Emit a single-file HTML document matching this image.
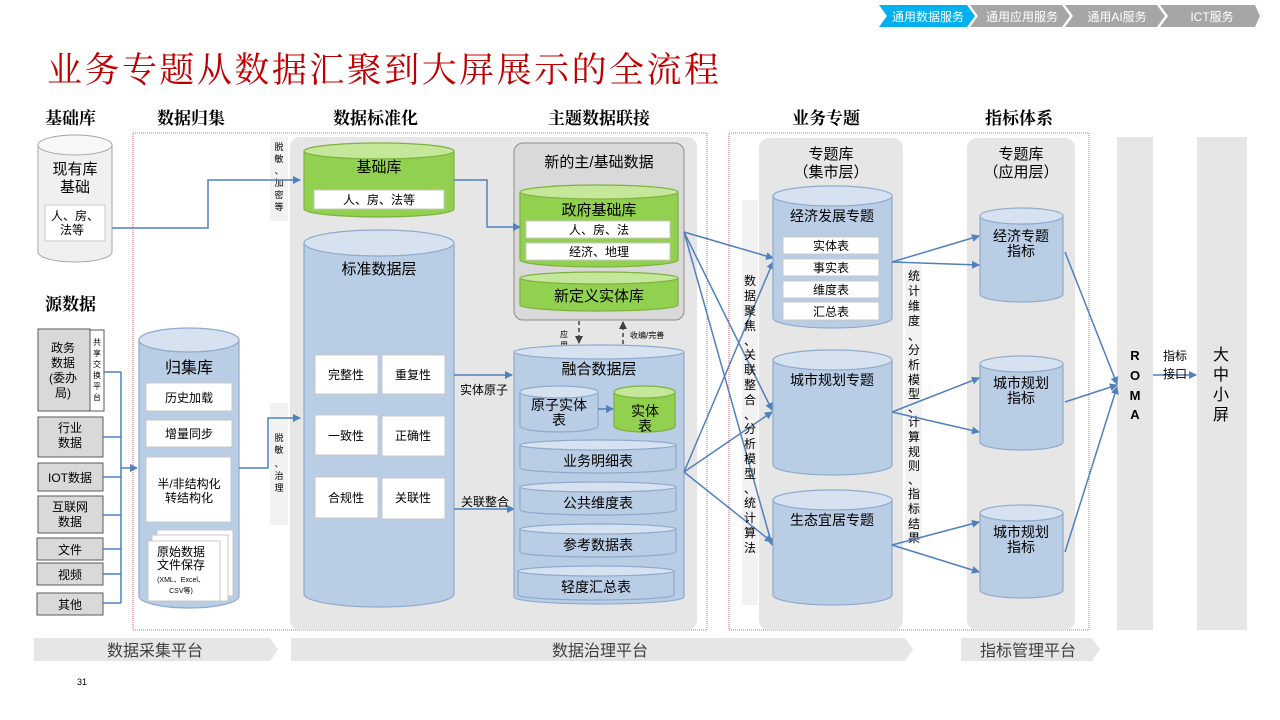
<!DOCTYPE html>
<html><head><meta charset="utf-8">
<style>
html,body{margin:0;padding:0;background:#fff;}
svg{display:block;}
text{font-family:"Liberation Sans","Noto Sans CJK SC",sans-serif;}
.h{font-family:"Liberation Serif","Noto Serif CJK SC",serif;font-weight:bold;font-size:17px;fill:#000;}
.bc{fill:#b9cde5;stroke:#8eaacc;stroke-width:1.2;}
.bt{fill:#d6e2f0;stroke:#8eaacc;stroke-width:1.2;}
.gc{fill:#92d050;stroke:#7fb040;stroke-width:1.2;}
.gt{fill:#c4e79a;stroke:#7fb040;stroke-width:1.2;}
.wb{fill:#fff;stroke:#c8c8c8;stroke-width:1;}
.ln{stroke:#4f81bd;stroke-width:1.5;fill:none;}
.t12{font-size:12px;fill:#000;}
.t14{font-size:14px;fill:#000;}
.t15{font-size:15px;fill:#000;}
</style></head>
<body>
<svg width="1280" height="720" viewBox="0 0 1280 720" xmlns="http://www.w3.org/2000/svg">
<defs>
<marker id="a" markerWidth="8" markerHeight="8" refX="7" refY="4" orient="auto" markerUnits="userSpaceOnUse"><path d="M0,0 L8,4 L0,8 Z" fill="#4f81bd"/></marker>
<marker id="d" markerWidth="8" markerHeight="8" refX="7" refY="4" orient="auto" markerUnits="userSpaceOnUse"><path d="M0,0 L8,4 L0,8 Z" fill="#404040"/></marker>
</defs>

<!-- top nav -->
<polygon points="879,5 967,5 975,16 967,27 879,27 887,16" fill="#00b0f0"/>
<polygon points="970,5 1062,5 1070,16 1062,27 970,27 978,16" fill="#a6a6a6"/>
<polygon points="1065,5 1157,5 1165,16 1157,27 1065,27 1073,16" fill="#a6a6a6"/>
<polygon points="1160,5 1255,5 1260,16 1255,27 1160,27 1168,16" fill="#a6a6a6"/>
<text x="928" y="21" font-size="12" fill="#fff" text-anchor="middle">通用数据服务</text>
<text x="1022" y="21" font-size="12" fill="#fff" text-anchor="middle">通用应用服务</text>
<text x="1117" y="21" font-size="12" fill="#fff" text-anchor="middle">通用AI服务</text>
<text x="1212" y="21" font-size="12" fill="#fff" text-anchor="middle">ICT服务</text>

<!-- title -->
<text x="47" y="82" font-size="35" fill="#c00000" style="font-family:'Liberation Serif','Noto Serif CJK SC',serif" textLength="672">业务专题从数据汇聚到大屏展示的全流程</text>

<!-- headers -->
<text class="h" x="45" y="124">基础库</text>
<text class="h" x="157" y="124">数据归集</text>
<text class="h" x="333" y="124">数据标准化</text>
<text class="h" x="548" y="124">主题数据联接</text>
<text class="h" x="792" y="124">业务专题</text>
<text class="h" x="985" y="124">指标体系</text>
<text class="h" x="45" y="310">源数据</text>

<!-- dotted red frames -->
<rect x="133" y="133" width="574" height="497" fill="none" stroke="#e06070" stroke-width="1" stroke-dasharray="1,1"/>
<rect x="729" y="133" width="360" height="497" fill="none" stroke="#e06070" stroke-width="1" stroke-dasharray="1,1"/>

<!-- gray panels -->
<rect x="290" y="137" width="407" height="493" rx="10" fill="#e6e6e6"/>
<rect x="759" y="138" width="144" height="492" rx="10" fill="#e6e6e6"/>
<rect x="967" y="138" width="108" height="492" rx="10" fill="#e6e6e6"/>
<rect x="1117" y="137" width="36" height="493" fill="#e6e6e6"/>
<rect x="1197" y="137" width="50" height="493" fill="#e6e6e6"/>
<rect x="270" y="137" width="18" height="84" fill="#f2f2f2"/>
<rect x="270" y="403" width="18" height="122" fill="#f2f2f2"/>
<rect x="742" y="200" width="16" height="405" fill="#f2f2f2"/>
<rect x="905" y="265" width="17" height="275" fill="#f2f2f2"/>

<!-- 现有库基础 -->
<path d="M38,145 L38,252 A37,10 0 0 0 112,252 L112,145 Z" fill="#f0f0f0" stroke="#a6a6a6"/>
<ellipse cx="75" cy="145" rx="37" ry="10" fill="#f7f7f7" stroke="#a6a6a6"/>
<text class="t15" x="75" y="174" text-anchor="middle">现有库</text>
<text class="t15" x="75" y="192" text-anchor="middle">基础</text>
<rect x="45" y="205" width="60" height="36" class="wb"/>
<text class="t12" x="75" y="220" text-anchor="middle">人、房、</text>
<text class="t12" x="72" y="234" text-anchor="middle">法等</text>

<!-- source boxes -->
<rect x="38" y="329" width="52" height="82" fill="#d9d9d9" stroke="#595959"/>
<rect x="90" y="330" width="14" height="81" fill="#fff" stroke="#595959"/>
<text class="t12" x="63" y="352" text-anchor="middle">政务</text>
<text class="t12" x="63" y="367" text-anchor="middle">数据</text>
<text class="t12" x="63" y="382" text-anchor="middle">(委办</text>
<text class="t12" x="63" y="397" text-anchor="middle">局)</text>
<text font-size="8" x="97" y="345" text-anchor="middle">共</text>
<text font-size="8" x="97" y="356" text-anchor="middle">享</text>
<text font-size="8" x="97" y="367" text-anchor="middle">交</text>
<text font-size="8" x="97" y="378" text-anchor="middle">换</text>
<text font-size="8" x="97" y="389" text-anchor="middle">平</text>
<text font-size="8" x="97" y="400" text-anchor="middle">台</text>
<rect x="38" y="417" width="65" height="40" fill="#d9d9d9" stroke="#595959"/>
<text class="t12" x="70" y="432" text-anchor="middle">行业</text>
<text class="t12" x="70" y="447" text-anchor="middle">数据</text>
<rect x="38" y="463" width="65" height="28" fill="#d9d9d9" stroke="#595959"/>
<text class="t12" x="70" y="482" text-anchor="middle">IOT数据</text>
<rect x="38" y="496" width="65" height="37" fill="#d9d9d9" stroke="#595959"/>
<text class="t12" x="70" y="511" text-anchor="middle">互联网</text>
<text class="t12" x="70" y="526" text-anchor="middle">数据</text>
<rect x="37" y="538" width="66" height="22" fill="#d9d9d9" stroke="#595959"/>
<text class="t12" x="70" y="554" text-anchor="middle">文件</text>
<rect x="37" y="563" width="66" height="22" fill="#d9d9d9" stroke="#595959"/>
<text class="t12" x="70" y="579" text-anchor="middle">视频</text>
<rect x="37" y="593" width="66" height="22" fill="#d9d9d9" stroke="#595959"/>
<text class="t12" x="70" y="609" text-anchor="middle">其他</text>
<path class="ln" d="M104,372 H121 M103,437 H121 M103,477 H121 M103,515 H121 M103,549 H121 M103,574 H121 M103,603 H121 M121,372 V603"/>
<line class="ln" x1="121" y1="468" x2="137" y2="468" marker-end="url(#a)"/>

<!-- 归集库 -->
<path d="M139,340 L139,596 A50,12 0 0 0 239,596 L239,340 Z" class="bc"/>
<ellipse cx="189" cy="340" rx="50" ry="12" class="bt"/>
<text x="189" y="373" font-size="16" text-anchor="middle">归集库</text>
<rect x="146" y="383" width="86" height="28" class="wb"/>
<text class="t12" x="189" y="402" text-anchor="middle">历史加载</text>
<rect x="146" y="420" width="86" height="27" class="wb"/>
<text class="t12" x="189" y="438" text-anchor="middle">增量同步</text>
<rect x="146" y="457" width="85" height="65" class="wb"/>
<text class="t12" x="189" y="488" text-anchor="middle">半/非结构化</text>
<text class="t12" x="189" y="502" text-anchor="middle">转结构化</text>
<rect x="157" y="530" width="76" height="66" fill="#fff" stroke="#c8c8c8"/>
<rect x="152" y="535" width="76" height="66" fill="#fff" stroke="#c8c8c8"/>
<rect x="148" y="541" width="72" height="60" fill="#fff" stroke="#c8c8c8"/>
<text class="t12" x="181" y="556" text-anchor="middle">原始数据</text>
<text class="t12" x="181" y="569" text-anchor="middle">文件保存</text>
<text font-size="7" x="181" y="582" text-anchor="middle">(XML、Excel、</text>
<text font-size="7" x="181" y="593" text-anchor="middle">CSV等)</text>

<!-- vertical labels left -->
<text font-size="9" x="279" y="150" text-anchor="middle">脱</text>
<text font-size="9" x="279" y="162" text-anchor="middle">敏</text>
<text font-size="9" x="279" y="174" text-anchor="middle">、</text>
<text font-size="9" x="279" y="186" text-anchor="middle">加</text>
<text font-size="9" x="279" y="198" text-anchor="middle">密</text>
<text font-size="9" x="279" y="210" text-anchor="middle">等</text>
<text font-size="9" x="279" y="441" text-anchor="middle">脱</text>
<text font-size="9" x="279" y="453" text-anchor="middle">敏</text>
<text font-size="9" x="279" y="467" text-anchor="middle">、</text>
<text font-size="9" x="279" y="479" text-anchor="middle">治</text>
<text font-size="9" x="279" y="491" text-anchor="middle">理</text>
<path class="ln" d="M112,228 H208 V180 H300" marker-end="url(#a)"/>
<path class="ln" d="M239,468 H268 V418 H300" marker-end="url(#a)"/>

<!-- 基础库 green -->
<path d="M304,151 L304,209 A75,8 0 0 0 454,209 L454,151 Z" class="gc"/>
<ellipse cx="379" cy="151" rx="75" ry="8" class="gt"/>
<text x="379" y="172" font-size="15" text-anchor="middle">基础库</text>
<rect x="314" y="190" width="130" height="19" class="wb"/>
<text class="t12" x="379" y="204" text-anchor="middle">人、房、法等</text>

<!-- 标准数据层 -->
<path d="M304,243 L304,594 A75,13 0 0 0 454,594 L454,243 Z" class="bc"/>
<ellipse cx="379" cy="243" rx="75" ry="13" class="bt"/>
<text x="379" y="274" font-size="15" text-anchor="middle">标准数据层</text>
<rect x="315" y="355" width="63" height="39" class="wb"/><text class="t12" x="346" y="379" text-anchor="middle">完整性</text>
<rect x="382" y="355" width="63" height="39" class="wb"/><text class="t12" x="413" y="379" text-anchor="middle">重复性</text>
<rect x="315" y="415" width="63" height="40" class="wb"/><text class="t12" x="346" y="440" text-anchor="middle">一致性</text>
<rect x="382" y="416" width="63" height="40" class="wb"/><text class="t12" x="413" y="440" text-anchor="middle">正确性</text>
<rect x="315" y="477" width="63" height="41" class="wb"/><text class="t12" x="346" y="502" text-anchor="middle">合规性</text>
<rect x="382" y="478" width="63" height="41" class="wb"/><text class="t12" x="413" y="502" text-anchor="middle">关联性</text>
<line class="ln" x1="454" y1="375" x2="512" y2="375" marker-end="url(#a)"/>
<text class="t12" x="460" y="394">实体原子</text>
<text class="t12" x="461" y="506">关联整合</text>
<line class="ln" x1="454" y1="509" x2="514" y2="509" marker-end="url(#a)"/>

<!-- 新的主/基础数据 -->
<rect x="514" y="143" width="170" height="177" rx="9" fill="#d9d9d9" stroke="#8c8c8c"/>
<text x="599" y="167" font-size="15" text-anchor="middle">新的主/基础数据</text>
<path d="M520,192 L520,260 A79,7 0 0 0 678,260 L678,192 Z" class="gc"/>
<ellipse cx="599" cy="192" rx="79" ry="7" class="gt"/>
<text x="599" y="215" font-size="15" text-anchor="middle">政府基础库</text>
<rect x="526" y="221" width="144" height="17" class="wb"/><text class="t12" x="599" y="234" text-anchor="middle">人、房、法</text>
<rect x="526" y="243" width="144" height="17" class="wb"/><text class="t12" x="599" y="256" text-anchor="middle">经济、地理</text>
<path d="M520,278 L520,305 A79,6 0 0 0 678,305 L678,278 Z" class="gc"/>
<ellipse cx="599" cy="278" rx="79" ry="6" class="gt"/>
<text x="599" y="301" font-size="15" text-anchor="middle">新定义实体库</text>
<path class="ln" d="M454,180 H487 V227 H520" marker-end="url(#a)"/>

<!-- dashed -->
<line x1="579" y1="321" x2="579" y2="343" stroke="#404040" stroke-width="1.5" stroke-dasharray="4,3" marker-end="url(#d)"/>
<line x1="623" y1="344" x2="623" y2="322" stroke="#404040" stroke-width="1.5" stroke-dasharray="4,3" marker-end="url(#d)"/>
<text font-size="8" x="560" y="337">应</text>
<text font-size="8" x="560" y="348">用</text>
<text font-size="8" x="630" y="338">收编/完善</text>

<!-- 融合数据层 -->
<path d="M514,352 L514,597 A85,7 0 0 0 684,597 L684,352 Z" class="bc"/>
<ellipse cx="599" cy="352" rx="85" ry="7" class="bt"/>
<text x="599" y="374" font-size="15" text-anchor="middle">融合数据层</text>
<path d="M520,392 L520,426 A39,6 0 0 0 598,426 L598,392 Z" class="bc"/>
<ellipse cx="559" cy="392" rx="39" ry="6" class="bt"/>
<text x="559" y="410" font-size="14" text-anchor="middle">原子实体</text>
<text x="559" y="425" font-size="14" text-anchor="middle">表</text>
<path d="M614,392 L614,426 A30.5,6 0 0 0 675,426 L675,392 Z" class="gc"/>
<ellipse cx="644.5" cy="392" rx="30.5" ry="6" class="gt"/>
<text x="645" y="416" font-size="14" text-anchor="middle">实体</text>
<text x="645" y="431" font-size="14" text-anchor="middle">表</text>
<line class="ln" x1="598" y1="409" x2="613" y2="409" marker-end="url(#a)"/>
<path d="M520,445 L520,468 A78,5 0 0 0 676,468 L676,445 Z" class="bc"/><ellipse cx="598" cy="445" rx="78" ry="5" class="bt"/>
<text class="t14" x="598" y="466" text-anchor="middle">业务明细表</text>
<path d="M520,487 L520,510 A78,5 0 0 0 676,510 L676,487 Z" class="bc"/><ellipse cx="598" cy="487" rx="78" ry="5" class="bt"/>
<text class="t14" x="598" y="508" text-anchor="middle">公共维度表</text>
<path d="M520,529 L520,552 A78,5 0 0 0 676,552 L676,529 Z" class="bc"/><ellipse cx="598" cy="529" rx="78" ry="5" class="bt"/>
<text class="t14" x="598" y="550" text-anchor="middle">参考数据表</text>
<path d="M518,571 L518,595 A78,5 0 0 0 674,595 L674,571 Z" class="bc"/><ellipse cx="596" cy="571" rx="78" ry="5" class="bt"/>
<text class="t14" x="596" y="592" text-anchor="middle">轻度汇总表</text>

<!-- fan lines -->
<g class="ln" marker-end="url(#a)">
<line x1="684" y1="232" x2="773" y2="258"/>
<line x1="684" y1="232" x2="772" y2="410"/>
<line x1="684" y1="232" x2="772" y2="545"/>
<line x1="684" y1="472" x2="773" y2="262"/>
<line x1="684" y1="472" x2="772" y2="412"/>
<line x1="684" y1="472" x2="772" y2="542"/>
</g>

<!-- 专题库 集市层 -->
<text x="831" y="159" font-size="15" text-anchor="middle">专题库</text>
<text x="831" y="177" font-size="15" text-anchor="middle">（集市层）</text>
<path d="M773,196 L773,318 A59.5,10 0 0 0 892,318 L892,196 Z" class="bc"/><ellipse cx="832.5" cy="196" rx="59.5" ry="10" class="bt"/>
<text class="t14" x="832" y="221" text-anchor="middle">经济发展专题</text>
<rect x="783" y="237" width="96" height="17" class="wb"/><text class="t12" x="831" y="250" text-anchor="middle">实体表</text>
<rect x="783" y="259" width="96" height="17" class="wb"/><text class="t12" x="831" y="272" text-anchor="middle">事实表</text>
<rect x="783" y="281" width="96" height="17" class="wb"/><text class="t12" x="831" y="294" text-anchor="middle">维度表</text>
<rect x="783" y="302" width="96" height="18" class="wb"/><text class="t12" x="831" y="316" text-anchor="middle">汇总表</text>
<path d="M773,360 L773,465 A59.5,10 0 0 0 892,465 L892,360 Z" class="bc"/><ellipse cx="832.5" cy="360" rx="59.5" ry="10" class="bt"/>
<text class="t14" x="832" y="385" text-anchor="middle">城市规划专题</text>
<path d="M773,500 L773,595 A59.5,10 0 0 0 892,595 L892,500 Z" class="bc"/><ellipse cx="832.5" cy="500" rx="59.5" ry="10" class="bt"/>
<text class="t14" x="832" y="525" text-anchor="middle">生态宜居专题</text>

<!-- vertical text 1 -->
<text class="t12" text-anchor="middle">
<tspan x="750" y="285">数</tspan><tspan x="750" y="300">据</tspan><tspan x="750" y="315">聚</tspan><tspan x="750" y="330">焦</tspan><tspan x="750" y="345">、</tspan><tspan x="750" y="359">关</tspan><tspan x="750" y="374">联</tspan><tspan x="750" y="389">整</tspan><tspan x="750" y="404">合</tspan><tspan x="750" y="419">、</tspan><tspan x="750" y="433">分</tspan><tspan x="750" y="448">析</tspan><tspan x="750" y="463">模</tspan><tspan x="750" y="478">型</tspan><tspan x="750" y="493">、</tspan><tspan x="750" y="507">统</tspan><tspan x="750" y="522">计</tspan><tspan x="750" y="537">算</tspan><tspan x="750" y="552">法</tspan>
</text>
<!-- vertical text 2 -->
<text class="t12" text-anchor="middle">
<tspan x="914" y="280">统</tspan><tspan x="914" y="295">计</tspan><tspan x="914" y="310">维</tspan><tspan x="914" y="325">度</tspan><tspan x="914" y="340">、</tspan><tspan x="914" y="354">分</tspan><tspan x="914" y="369">析</tspan><tspan x="914" y="384">模</tspan><tspan x="914" y="398">型</tspan><tspan x="914" y="412">、</tspan><tspan x="914" y="426">计</tspan><tspan x="914" y="441">算</tspan><tspan x="914" y="456">规</tspan><tspan x="914" y="470">则</tspan><tspan x="914" y="484">、</tspan><tspan x="914" y="498">指</tspan><tspan x="914" y="513">标</tspan><tspan x="914" y="528">结</tspan><tspan x="914" y="542">果</tspan>
</text>

<!-- 指标 panel -->
<text x="1021" y="159" font-size="15" text-anchor="middle">专题库</text>
<text x="1021" y="177" font-size="15" text-anchor="middle">（应用层）</text>
<path d="M980,216 L980,294 A41.5,8 0 0 0 1063,294 L1063,216 Z" class="bc"/><ellipse cx="1021.5" cy="216" rx="41.5" ry="8" class="bt"/>
<text class="t14" x="1021" y="241" text-anchor="middle">经济专题</text><text class="t14" x="1021" y="256" text-anchor="middle">指标</text>
<path d="M980,364 L980,442 A41.5,8 0 0 0 1063,442 L1063,364 Z" class="bc"/><ellipse cx="1021.5" cy="364" rx="41.5" ry="8" class="bt"/>
<text class="t14" x="1021" y="388" text-anchor="middle">城市规划</text><text class="t14" x="1021" y="403" text-anchor="middle">指标</text>
<path d="M980,513 L980,590 A41.5,8 0 0 0 1063,590 L1063,513 Z" class="bc"/><ellipse cx="1021.5" cy="513" rx="41.5" ry="8" class="bt"/>
<text class="t14" x="1021" y="537" text-anchor="middle">城市规划</text><text class="t14" x="1021" y="552" text-anchor="middle">指标</text>

<g class="ln" marker-end="url(#a)">
<line x1="892" y1="262" x2="979" y2="236"/>
<line x1="892" y1="262" x2="979" y2="265"/>
<line x1="892" y1="412" x2="979" y2="378"/>
<line x1="892" y1="412" x2="979" y2="432"/>
<line x1="892" y1="545" x2="979" y2="522"/>
<line x1="892" y1="545" x2="979" y2="572"/>
<line x1="1065" y1="252" x2="1117" y2="384"/>
<line x1="1065" y1="402" x2="1117" y2="385"/>
<line x1="1065" y1="552" x2="1117" y2="387"/>
<line x1="1153" y1="375" x2="1196" y2="375"/>
</g>

<!-- ROMA -->
<text font-size="13" font-weight="bold" text-anchor="middle">
<tspan x="1135" y="360">R</tspan><tspan x="1135" y="380">O</tspan><tspan x="1135" y="400">M</tspan><tspan x="1135" y="419">A</tspan>
</text>
<text class="t12" x="1163" y="360">指标</text>
<text class="t12" x="1163" y="378">接口</text>
<text font-size="16" text-anchor="middle">
<tspan x="1221" y="360">大</tspan><tspan x="1221" y="380">中</tspan><tspan x="1221" y="400">小</tspan><tspan x="1221" y="420">屏</tspan>
</text>

<!-- bottom platforms -->
<polygon points="34,638 270,638 278,649.5 270,661 34,661" fill="#e6e6e6"/>
<polygon points="291,638 905,638 913,649.5 905,661 291,661" fill="#e6e6e6"/>
<polygon points="961,638 1092,638 1100,649.5 1092,661 961,661" fill="#e6e6e6"/>
<text x="155" y="656" font-size="16" fill="#404040" text-anchor="middle">数据采集平台</text>
<text x="600" y="656" font-size="16" fill="#404040" text-anchor="middle">数据治理平台</text>
<text x="1028" y="656" font-size="16" fill="#404040" text-anchor="middle">指标管理平台</text>
<text x="77" y="685" font-size="9" fill="#000">31</text>
</svg>
</body></html>
